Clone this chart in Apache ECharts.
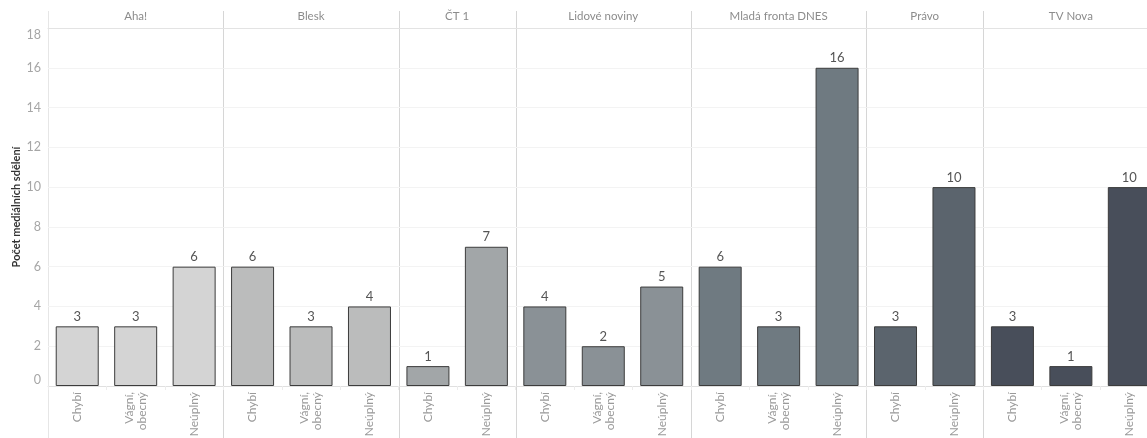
<!DOCTYPE html>
<html>
<head>
<meta charset="utf-8">
<script src="https://cdn.jsdelivr.net/npm/echarts@6/dist/echarts.min.js"></script>
<style>
  html, body { margin: 0; padding: 0; background: #fff; }
  #chart { width: 1147px; height: 438px; }
</style>
</head>
<body>
<div id="chart"></div>
<script>
// data
var outlets = ['Aha!', 'Blesk', 'ČT 1', 'Lidové noviny', 'Mladá fronta DNES', 'Právo', 'TV Nova'];
var errorTypes = [
    ['Chybí', 'Vágní, obecný', 'Neúplný'],
    ['Chybí', 'Vágní, obecný', 'Neúplný'],
    ['Chybí', 'Neúplný'],
    ['Chybí', 'Vágní, obecný', 'Neúplný'],
    ['Chybí', 'Vágní, obecný', 'Neúplný'],
    ['Chybí', 'Neúplný'],
    ['Chybí', 'Vágní, obecný', 'Neúplný']
];
var counts = [
    [3, 3, 6],
    [6, 3, 4],
    [1, 7],
    [4, 2, 5],
    [6, 3, 16],
    [3, 10],
    [3, 1, 10]
];
var yTicks = [0, 2, 4, 6, 8, 10, 12, 14, 16, 18];

var barColors = ['#d4d4d4', '#bbbcbc', '#a2a6a8', '#8a9196', '#6f7a81', '#5b646d', '#484e5a'];
var font = 'Lato';

var chart = echarts.init(document.getElementById('chart'));

var plotLeft = 48;
var slot = 58.45;
var plotTop = 28;
var plotBottom = 52;

var grids = [], xAxes = [], yAxes = [], series = [], graphics = [];
var x = plotLeft;
outlets.forEach(function (name, i) {
    var w = errorTypes[i].length * slot;
    grids.push({
        left: x, top: plotTop, width: w, bottom: plotBottom,
        containLabel: false,
        outerBoundsMode: 'none'
    });
    // bottom axis: error type
    xAxes.push({
        type: 'category',
        gridIndex: i,
        data: errorTypes[i],
        axisLine: { show: true, lineStyle: { color: '#e0e0e0' } },
        axisTick: { show: true, length: 4, lineStyle: { color: '#ececec' } },
        axisLabel: {
            rotate: 90,
            color: '#9a9a9a',
            fontFamily: font,
            fontSize: 12,
            lineHeight: 13,
            margin: 6,
            formatter: function (v) { return v.replace(', ', ',\n'); }
        }
    });
    // top axis: outlet header
    xAxes.push({
        type: 'category',
        gridIndex: i,
        position: 'top',
        data: [name],
        axisLine: { show: true, lineStyle: { color: '#e3e3e3' } },
        axisTick: { show: false },
        axisLabel: { color: '#8c8c8c', fontFamily: font, fontSize: 11.5, margin: 6 }
    });
    yAxes.push({
        type: 'value',
        gridIndex: i,
        min: yTicks[0],
        max: yTicks[yTicks.length - 1],
        interval: 2,
        name: i === 0 ? 'Počet mediálních sdělení' : '',
        nameLocation: 'middle',
        nameGap: 26,
        nameTextStyle: { color: '#333', fontFamily: font, fontSize: 11, fontWeight: 'bold' },
        axisLine: { show: false },
        axisTick: { show: false },
        axisLabel: {
            show: i === 0,
            color: '#a6a6a6',
            fontFamily: font,
            fontSize: 12.5,
            margin: 7,
            verticalAlignMinLabel: 'bottom',
            verticalAlignMaxLabel: 'top'
        },
        splitLine: { show: true, lineStyle: { color: '#f3f3f3' } }
    });
    series.push({
        type: 'bar',
        xAxisIndex: i * 2,
        yAxisIndex: i,
        data: counts[i],
        barWidth: 43,
        itemStyle: { color: barColors[i], borderColor: '#3c3c3c', borderWidth: 1 },
        label: {
            show: true,
            position: 'top',
            distance: 3,
            color: '#555',
            fontFamily: font,
            fontSize: 13
        },
        silent: true
    });
    // panel separator
    graphics.push({
        type: 'line',
        shape: { x1: Math.round(x) + 0.5, y1: 11, x2: Math.round(x) + 0.5, y2: 438 },
        style: { stroke: i === 0 ? '#e6e6e6' : '#d6d6d6', lineWidth: 1 },
        silent: true
    });
    x += w;
});

chart.setOption({
    animation: false,
    grid: grids,
    xAxis: xAxes,
    yAxis: yAxes,
    series: series,
    graphic: graphics
});
</script>
</body>
</html>
